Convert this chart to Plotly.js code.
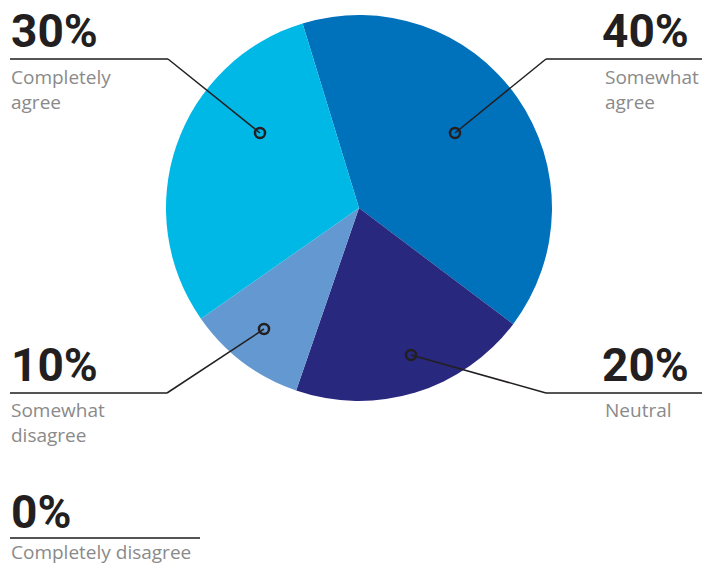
<!DOCTYPE html>
<html>
<head>
<meta charset="utf-8">
<script src="https://cdn.plot.ly/plotly-3.0.1.min.js"></script>
<style>html,body{margin:0;padding:0;background:#fff;}#chart{width:702px;height:565px;}</style>
</head>
<body>
<div id="chart"></div>
<script>
// Data
const categories = ["Somewhat agree", "Neutral", "Somewhat disagree", "Completely agree", "Completely disagree"];
const values = [40, 20, 10, 30, 0];
const percentLabels = ["40%", "20%", "10%", "30%", "0%"];
const descLabels = ["Somewhat<br>agree", "Neutral", "Somewhat<br>disagree", "Completely<br>agree", "Completely disagree"];
const sliceColors = ["#0071BB", "#28287E", "#6399D0", "#00B8E6", "#00B8E6"];

const W = 702, H = 565;
const px = x => x / W;
const py = y => 1 - y / H;

const labelLayout = [
  {pctX: 691, pctY: 31, anchor: "right", descX: 603, descY: 89, lx0: 546, lx1: 702, ly: 59, dot: [455, 133]},
  {pctX: 691, pctY: 365, anchor: "right", descX: 603, descY: 410, lx0: 546, lx1: 702, ly: 393, dot: [411, 355]},
  {pctX: 9, pctY: 365, anchor: "left", descX: 9, descY: 422, lx0: 10, lx1: 167, ly: 393, dot: [264, 329]},
  {pctX: 9, pctY: 31, anchor: "left", descX: 9, descY: 89, lx0: 10, lx1: 168, ly: 59, dot: [260, 133]},
  {pctX: 9, pctY: 512, anchor: "left", descX: 9, descY: 552, lx0: 10, lx1: 200, ly: 538, dot: null}
];

const annotations = [];
const shapes = [];
labelLayout.forEach((L, i) => {
  annotations.push({
    xref: "paper", yref: "paper", x: px(L.pctX), y: py(L.pctY),
    xanchor: L.anchor, yanchor: "middle", showarrow: false,
    text: "<b>" + percentLabels[i] + "</b>",
    font: {family: "Roboto, sans-serif", size: 46, color: "#231f20"}
  });
  annotations.push({
    xref: "paper", yref: "paper", x: px(L.descX), y: py(L.descY),
    xanchor: "left", yanchor: "middle", align: "left", showarrow: false,
    text: descLabels[i],
    font: {family: "'Open Sans', sans-serif", size: 19, color: "#8a8a8a"}
  });
  shapes.push({type: "line", xref: "paper", yref: "paper",
    x0: px(L.lx0), x1: px(L.lx1), y0: py(L.ly), y1: py(L.ly),
    line: {color: "#555555", width: 2}});
  if (L.dot) {
    const ex = L.anchor === "left" ? L.lx1 : L.lx0;
    shapes.push({type: "line", xref: "paper", yref: "paper",
      x0: px(ex), x1: px(L.dot[0]), y0: py(L.ly), y1: py(L.dot[1]),
      line: {color: "#231f20", width: 1.5}});
    const r = 5;
    shapes.push({type: "circle", xref: "paper", yref: "paper",
      x0: px(L.dot[0] - r), x1: px(L.dot[0] + r), y0: py(L.dot[1] + r), y1: py(L.dot[1] - r),
      fillcolor: "rgba(255,255,255,0)", line: {color: "#231f20", width: 2.5}});
  }
});

const cx = 359, cy = 208, R = 193;
const trace = {
  type: "pie",
  labels: categories,
  values: values,
  sort: false,
  direction: "clockwise",
  rotation: -17,
  marker: {colors: sliceColors, line: {width: 0}},
  textinfo: "none",
  hoverinfo: "label+percent",
  showlegend: false,
  domain: {x: [px(cx - R), px(cx + R)], y: [py(cy + R), py(cy - R)]}
};

Plotly.newPlot("chart", [trace], {
  width: W, height: H,
  margin: {l: 0, r: 0, t: 0, b: 0},
  paper_bgcolor: "#ffffff",
  showlegend: false,
  annotations: annotations,
  shapes: shapes
}, {displayModeBar: false, staticPlot: true});
</script>
</body>
</html>
